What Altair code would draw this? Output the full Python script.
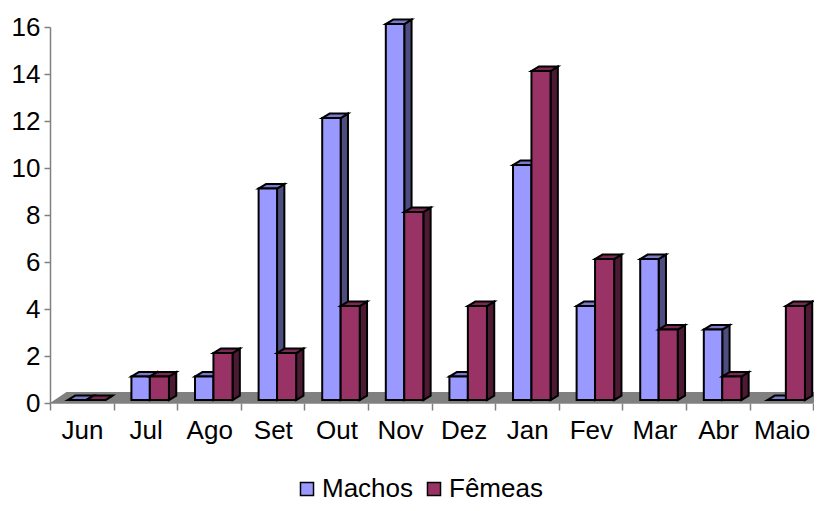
import altair as alt
import pandas as pd

months = ["Jun", "Jul", "Ago", "Set", "Out", "Nov", "Dez", "Jan", "Fev", "Mar", "Abr", "Maio"]
machos = [0, 1, 1, 9, 12, 16, 1, 10, 4, 6, 3, 0]
femeas = [0, 1, 2, 2, 4, 8, 4, 14, 6, 3, 1, 4]

FONT = "Liberation Sans"
DX, DY = 0.115, 0.19     # 3-D depth, in scale units
BASE = 0.125             # bars stand slightly behind the front edge of the floor
PITCH = 63.6
X_DOM = [0, 764 / PITCH]
Y_DOM = [0, 16]
xs = alt.Scale(domain=X_DOM, nice=False, zero=False, padding=0)
ys = alt.Scale(domain=Y_DOM, nice=False, zero=False, padding=0)

label_expr = "datum.value < 12 ? " + str(months) + "[datum.value] : ''"

AX = alt.Axis(
    values=list(range(13)), title=None, grid=False, domain=False,
    tickColor="#808080", tickWidth=1.5, tickSize=7, labelFont=FONT, labelFontSize=26, labelColor="black",
    labelExpr=label_expr, labelOffset=32, labelOverlap=False, labelBound=False, labelFlush=False,
    labelPadding=7)
AY = alt.Axis(
    values=list(range(0, 17, 2)), title=None, grid=False, domainColor="#808080", domainWidth=1.5,
    tickColor="#808080", tickWidth=1.5, tickSize=6, labelFont=FONT, labelFontSize=26, labelColor="black",
    labelPadding=4)
NOAX = dict(axis=AX, scale=xs)
NOAY = dict(axis=AY, scale=ys)


def frames(values, start, end, name):
    front, side, top = [], [], []
    for i, v in enumerate(values):
        a, b = i + start, i + end
        t = v + BASE
        front.append(dict(a=a, b=b, lo=BASE, hi=t, serie=name))
        side += [dict(c=i, x=b, lo=BASE, hi=t), dict(c=i, x=b + DX, lo=BASE + DY, hi=t + DY)]
        top += [dict(c=i, y=t, a=a, b=b), dict(c=i, y=t + DY, a=a + DX, b=b + DX)]
    return pd.DataFrame(front), pd.DataFrame(side), pd.DataFrame(top)


def bars(values, start, end, name, col_top, col_side):
    fr, si, to = frames(values, start, end, name)
    s = alt.Chart(si).mark_area(fill=col_side, stroke="black", strokeWidth=2, strokeJoin="miter").encode(
        x=alt.X("x:Q", **NOAX), y=alt.Y("lo:Q", **NOAY), y2="hi:Q", detail="c:N")
    t = alt.Chart(to).mark_area(orient="horizontal", fill=col_top, stroke="black", strokeWidth=2).encode(
        y=alt.Y("y:Q", **NOAY), x=alt.X("a:Q", **NOAX), x2="b:Q", detail="c:N")
    f = alt.Chart(fr).mark_bar(stroke="black", strokeWidth=2).encode(
        x=alt.X("a:Q", **NOAX), x2="b:Q", y=alt.Y("lo:Q", **NOAY), y2="hi:Q",
        color=alt.Color("serie:N",
                        scale=alt.Scale(domain=["Machos", "Fêmeas"], range=["#9999FF", "#993366"]),
                        legend=alt.Legend(orient="none", legendX=244, legendY=449, direction="horizontal",
                                          title=None, symbolType="square", symbolSize=170,
                                          symbolStrokeColor="black", symbolStrokeWidth=1.5,
                                          labelFont=FONT, labelFontSize=26, labelColor="black",
                                          labelOffset=2, columnPadding=7, symbolOpacity=1,
                                          labelLimit=200)))
    return [s, t, f]


floor_df = pd.DataFrame([dict(y=0, a=0, b=12), dict(y=0.47, a=0.26, b=12.26)])
floor = alt.Chart(floor_df).mark_area(orient="horizontal", fill="#808080", clip=True).encode(
    y=alt.Y("y:Q", **NOAY), x=alt.X("a:Q", **NOAX), x2="b:Q")

base_line = alt.Chart(pd.DataFrame([dict(a=0, b=12, y=0)])).mark_rule(color="#808080", strokeWidth=1.5).encode(
    x=alt.X("a:Q", **NOAX), x2="b:Q", y=alt.Y("y:Q", **NOAY))

layers = [floor, base_line]
layers += bars(machos, 0.28, 0.57, "Machos", "#7A7ACC", "#4D4D80")
layers += bars(femeas, 0.57, 0.87, "Fêmeas", "#7A2952", "#4D1A33")

chart = alt.layer(*layers).properties(
    width=764, height=376,
    autosize=alt.AutoSizeParams(type="none"),
    padding={"left": 42, "top": 19, "right": 0, "bottom": 100},
    background="white",
).configure_view(stroke=None)

chart.save("out.html", embed_options={"renderer": "svg", "actions": False})
